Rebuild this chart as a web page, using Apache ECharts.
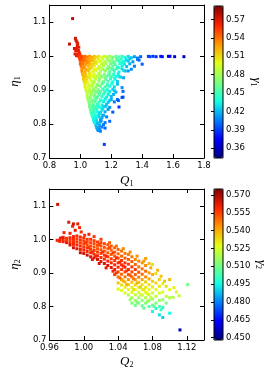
<!DOCTYPE html>
<html><head><meta charset="utf-8">
<script src="https://cdn.jsdelivr.net/npm/echarts@6/dist/echarts.min.js"></script>
<style>html,body{margin:0;padding:0;background:#fff}#c{width:270px;height:373px}</style>
</head><body><div id="c"></div>
<script>
// ---- Top panel: [Q1, eta1, gamma1] ----
const points1 = [
[0.95,1.11,0.578],[0.93,1.035,0.575],[0.968,1.052,0.572],[0.972,1.046,0.57],[0.978,1.041,0.57],[0.983,1.036,0.568],[0.962,1.022,0.572],[0.97,1.016,0.568],[0.978,1.022,0.567],[0.988,1.016,0.565],[0.993,1.01,0.562],[0.984,1.006,0.565],[0.966,1.006,0.57],[0.975,1.001,0.566],[0.99,1.026,0.566],[0.98,1.03,0.568],[0.997,1.004,0.56],[0.986,1.0,0.562],[0.992,1.002,0.56],
[0.995,0.999,0.556],[1.0,0.997,0.554],[1.01,0.999,0.55],[1.02,0.996,0.546],[1.03,0.999,0.542],[1.045,0.997,0.536],[1.06,0.999,0.53],[1.075,0.996,0.524],[1.09,0.999,0.518],[1.105,0.997,0.512],[1.12,0.999,0.506],[1.14,0.996,0.498],[1.155,0.999,0.492],[1.17,0.997,0.486],[1.19,0.999,0.478],[1.21,0.996,0.47],[1.23,0.999,0.462],[1.25,0.997,0.454],[1.27,0.999,0.446],[1.29,0.996,0.438],[1.31,0.999,0.43],[1.33,0.995,0.422],[1.35,0.998,0.414],[1.37,0.994,0.406],[1.39,0.998,0.398],[1.44,0.999,0.392],[1.45,0.998,0.39],[1.47,0.999,0.387],[1.49,0.998,0.385],[1.52,0.999,0.38],[1.53,0.998,0.378],[1.57,0.999,0.372],[1.58,0.999,0.37],[1.61,0.998,0.366],[1.67,0.998,0.36],
[1.37,0.99,0.404],[1.4,0.976,0.398],[1.33,0.961,0.41],[1.35,0.97,0.405],[1.28,0.936,0.415],[1.27,0.907,0.41],[1.27,0.878,0.395],[1.24,0.872,0.402],
[0.995,0.992,0.553],[1.01,0.991,0.547],[1.03,0.993,0.539],[1.05,0.991,0.531],[1.07,0.993,0.523],[1.09,0.99,0.515],[1.115,0.992,0.505],[1.145,0.991,0.493],[1.175,0.993,0.481],[1.205,0.99,0.469],[1.235,0.992,0.457],[1.265,0.991,0.445],[1.295,0.99,0.433],[1.32,0.992,0.423],
[1.0,0.985,0.548],[1.02,0.984,0.54],[1.04,0.986,0.532],[1.06,0.984,0.524],[1.08,0.986,0.516],[1.1,0.983,0.508],[1.13,0.986,0.496],[1.16,0.984,0.484],[1.19,0.985,0.472],[1.22,0.983,0.46],[1.25,0.986,0.448],[1.28,0.984,0.436],[1.31,0.985,0.424],[1.34,0.983,0.412],[1.38,0.988,0.4],
[1.0,0.977,0.545],[1.015,0.978,0.539],[1.035,0.976,0.531],[1.06,0.978,0.521],[1.08,0.976,0.513],[1.105,0.978,0.503],[1.135,0.976,0.491],[1.165,0.978,0.479],[1.195,0.977,0.467],[1.225,0.975,0.455],[1.255,0.978,0.443],[1.285,0.976,0.431],[1.32,0.977,0.417],
[1.005,0.97,0.539],[1.025,0.969,0.532],[1.05,0.971,0.522],[1.07,0.969,0.514],[1.09,0.971,0.506],[1.12,0.969,0.494],[1.15,0.971,0.482],[1.18,0.969,0.47],[1.21,0.97,0.458],[1.24,0.968,0.446],[1.27,0.971,0.434],[1.3,0.969,0.422],
[1.01,0.962,0.534],[1.035,0.961,0.524],[1.06,0.963,0.514],[1.09,0.961,0.502],[1.115,0.963,0.492],[1.145,0.961,0.48],[1.175,0.963,0.468],[1.205,0.961,0.456],[1.235,0.963,0.444],[1.27,0.962,0.43],
[1.01,0.955,0.531],[1.03,0.954,0.523],[1.055,0.956,0.513],[1.08,0.954,0.503],[1.1,0.956,0.495],[1.13,0.954,0.483],[1.16,0.956,0.471],[1.19,0.954,0.459],[1.22,0.955,0.447],[1.25,0.953,0.435],[1.29,0.956,0.419],[1.31,0.956,0.413],
[1.015,0.947,0.525],[1.035,0.946,0.517],[1.06,0.948,0.507],[1.09,0.946,0.495],[1.12,0.948,0.483],[1.155,0.946,0.469],[1.185,0.948,0.457],[1.215,0.946,0.445],[1.245,0.947,0.433],
[1.02,0.94,0.52],[1.04,0.939,0.512],[1.06,0.941,0.504],[1.085,0.939,0.494],[1.11,0.941,0.484],[1.14,0.939,0.472],[1.17,0.941,0.46],[1.2,0.939,0.448],[1.23,0.94,0.436],[1.26,0.938,0.424],
[1.02,0.932,0.516],[1.04,0.931,0.508],[1.065,0.933,0.498],[1.095,0.931,0.486],[1.125,0.933,0.474],[1.165,0.931,0.458],[1.195,0.933,0.446],[1.225,0.932,0.434],
[1.025,0.925,0.511],[1.045,0.924,0.503],[1.07,0.926,0.493],[1.09,0.924,0.485],[1.12,0.926,0.473],[1.15,0.924,0.461],[1.18,0.926,0.449],[1.21,0.924,0.437],[1.24,0.925,0.425],
[1.03,0.917,0.506],[1.055,0.916,0.496],[1.08,0.918,0.486],[1.11,0.916,0.474],[1.14,0.918,0.462],[1.175,0.916,0.448],[1.205,0.918,0.436],[1.24,0.917,0.422],
[1.03,0.91,0.503],[1.05,0.909,0.495],[1.075,0.911,0.485],[1.1,0.909,0.475],[1.13,0.911,0.463],[1.16,0.909,0.451],[1.19,0.911,0.439],[1.22,0.909,0.427],
[1.035,0.902,0.497],[1.06,0.901,0.487],[1.085,0.903,0.477],[1.115,0.901,0.465],[1.145,0.903,0.453],[1.175,0.901,0.441],[1.21,0.902,0.427],
[1.04,0.895,0.492],[1.06,0.894,0.484],[1.08,0.896,0.476],[1.105,0.894,0.466],[1.13,0.896,0.456],[1.16,0.894,0.444],[1.19,0.896,0.432],[1.23,0.894,0.416],[1.276,0.896,0.4],
[1.045,0.887,0.486],[1.07,0.886,0.476],[1.095,0.888,0.466],[1.12,0.886,0.456],[1.15,0.888,0.444],[1.18,0.886,0.432],[1.215,0.887,0.418],
[1.045,0.88,0.483],[1.065,0.879,0.475],[1.09,0.881,0.465],[1.11,0.879,0.457],[1.14,0.881,0.445],[1.17,0.879,0.433],[1.2,0.881,0.421],[1.276,0.879,0.394],
[1.05,0.872,0.477],[1.075,0.871,0.467],[1.1,0.873,0.457],[1.13,0.871,0.445],[1.16,0.873,0.433],[1.2,0.872,0.417],
[1.055,0.865,0.472],[1.075,0.864,0.464],[1.095,0.866,0.456],[1.12,0.864,0.446],[1.15,0.866,0.434],[1.18,0.864,0.422],[1.22,0.865,0.406],[1.246,0.869,0.398],
[1.06,0.857,0.467],[1.085,0.856,0.457],[1.11,0.858,0.447],[1.14,0.856,0.435],[1.17,0.858,0.423],
[1.06,0.85,0.464],[1.08,0.849,0.456],[1.1,0.851,0.448],[1.125,0.849,0.438],[1.15,0.851,0.428],[1.19,0.849,0.412],[1.25,0.85,0.388],
[1.065,0.842,0.458],[1.085,0.841,0.45],[1.105,0.843,0.442],[1.14,0.841,0.428],[1.18,0.843,0.412],
[1.07,0.835,0.453],[1.09,0.834,0.445],[1.11,0.836,0.437],[1.13,0.834,0.429],[1.16,0.836,0.417],[1.21,0.835,0.397],
[1.075,0.827,0.447],[1.095,0.826,0.439],[1.12,0.828,0.429],[1.15,0.826,0.417],
[1.08,0.82,0.442],[1.1,0.819,0.434],[1.12,0.821,0.426],[1.14,0.819,0.418],[1.17,0.821,0.406],[1.19,0.808,0.4],
[1.085,0.812,0.436],[1.105,0.811,0.428],[1.13,0.813,0.418],
[1.09,0.805,0.432],[1.11,0.804,0.424],[1.13,0.806,0.416],[1.16,0.804,0.404],
[1.1,0.797,0.424],[1.125,0.796,0.414],[1.15,0.798,0.405],
[1.105,0.79,0.419],[1.12,0.789,0.413],[1.14,0.791,0.405],[1.16,0.788,0.4],
[1.115,0.781,0.41],[1.13,0.779,0.405],[1.155,0.74,0.39],
[1.005,0.994,0.552],[1.025,0.988,0.541],[1.045,0.981,0.533],[1.07,0.987,0.522],[1.095,0.98,0.51],[1.12,0.984,0.5],[1.15,0.979,0.487],[1.18,0.988,0.476],[1.21,0.98,0.462],[1.24,0.987,0.452],[1.27,0.981,0.438],[1.3,0.987,0.428],
[1.02,0.966,0.532],[1.045,0.959,0.522],[1.07,0.965,0.513],[1.1,0.96,0.5],[1.13,0.965,0.489],[1.16,0.958,0.475],[1.19,0.965,0.465],[1.22,0.959,0.452],[1.25,0.966,0.442],[1.28,0.958,0.428],
[1.025,0.944,0.518],[1.05,0.936,0.508],[1.075,0.943,0.5],[1.1,0.935,0.49],[1.13,0.943,0.479],[1.16,0.936,0.466],[1.19,0.943,0.455],[1.22,0.936,0.442],[1.25,0.94,0.43],
[1.035,0.921,0.505],[1.06,0.913,0.493],[1.085,0.921,0.484],[1.115,0.913,0.47],[1.145,0.921,0.46],[1.175,0.913,0.447],[1.205,0.92,0.437],
[1.045,0.898,0.49],[1.07,0.891,0.48],[1.095,0.898,0.471],[1.125,0.891,0.458],[1.155,0.898,0.448],[1.185,0.891,0.435],[1.22,0.898,0.423],
[1.055,0.876,0.475],[1.08,0.869,0.465],[1.105,0.876,0.457],[1.135,0.869,0.444],[1.165,0.876,0.435],[1.19,0.869,0.422],
[1.065,0.853,0.462],[1.09,0.846,0.452],[1.115,0.853,0.443],[1.145,0.846,0.43],[1.165,0.852,0.422],
[1.075,0.831,0.449],[1.1,0.825,0.437],[1.125,0.832,0.428],[1.145,0.825,0.418],
[1.09,0.815,0.435],[1.115,0.8,0.42],[1.135,0.81,0.414],[1.11,0.785,0.415],[1.125,0.783,0.41]
];

// ---- Bottom panel: [Q2, eta2, gamma2] ----
const points2 = [
[0.9696,1.104,0.565],[0.9825,1.051,0.563],[0.988,1.046,0.565],[0.993,1.046,0.562],[0.987,1.039,0.56],[0.995,1.035,0.558],[0.977,1.02,0.56],[0.99,1.027,0.563],[0.997,1.022,0.558],[1.001,1.012,0.557],[0.969,0.997,0.559],[0.973,1.004,0.561],[1.006,1.015,0.56],[1.012,1.008,0.557],[1.02,1.0,0.556],[0.984,1.018,0.561],
[0.972,0.998,0.559],[0.972,0.994,0.561],
[0.976,1.0,0.558],[0.976,0.993,0.56],[0.976,1.006,0.562],
[0.98,1.003,0.558],[0.98,0.997,0.556],[0.98,0.99,0.562],
[0.984,1.005,0.559],[0.984,0.998,0.557],[0.984,0.99,0.558],[0.984,0.983,0.564],
[0.988,1.008,0.56],[0.988,1.0,0.558],[0.988,0.993,0.557],[0.988,0.985,0.56],[0.988,0.975,0.565],
[0.992,1.01,0.559],[0.992,1.001,0.557],[0.992,0.992,0.556],[0.992,0.983,0.559],[0.992,0.972,0.563],
[0.996,1.007,0.558],[0.996,0.998,0.557],[0.996,0.989,0.556],[0.996,0.98,0.558],[0.996,0.97,0.561],[0.996,0.96,0.566],
[1.0,1.004,0.558],[1.0,0.995,0.556],[1.0,0.986,0.555],[1.0,0.977,0.557],[1.0,0.968,0.56],[1.0,0.958,0.565],
[1.004,1.0,0.557],[1.004,0.992,0.555],[1.004,0.983,0.554],[1.004,0.974,0.557],[1.004,0.964,0.559],[1.004,0.953,0.566],
[1.008,1.0,0.557],[1.008,0.99,0.555],[1.008,0.98,0.554],[1.008,0.97,0.556],[1.008,0.96,0.559],[1.008,0.948,0.564],
[1.012,0.996,0.556],[1.012,0.987,0.554],[1.012,0.977,0.553],[1.012,0.967,0.556],[1.012,0.956,0.558],[1.012,0.945,0.563],
[1.016,0.992,0.556],[1.016,0.982,0.553],[1.016,0.972,0.553],[1.016,0.962,0.556],[1.016,0.951,0.559],[1.016,0.94,0.565],
[1.02,0.99,0.555],[1.02,0.98,0.553],[1.02,0.969,0.552],[1.02,0.958,0.555],[1.02,0.946,0.558],[1.02,0.934,0.563],
[1.024,0.987,0.554],[1.024,0.976,0.552],[1.024,0.965,0.552],[1.024,0.953,0.555],[1.024,0.941,0.558],[1.024,0.928,0.564],
[1.028,0.984,0.553],[1.028,0.972,0.551],[1.028,0.96,0.552],[1.028,0.948,0.555],[1.028,0.935,0.559],[1.028,0.922,0.565],
[1.032,0.98,0.552],[1.032,0.968,0.55],[1.032,0.955,0.552],[1.032,0.942,0.556],[1.032,0.93,0.559],[1.032,0.916,0.563],
[1.036,0.975,0.551],[1.036,0.962,0.55],[1.036,0.95,0.552],[1.036,0.937,0.556],[1.036,0.924,0.559],[1.036,0.91,0.561],[1.036,0.895,0.556],
[1.04,0.97,0.55],[1.04,0.957,0.549],[1.04,0.944,0.553],[1.04,0.93,0.557],[1.04,0.917,0.559],[1.04,0.903,0.554],[1.04,0.888,0.548],[1.04,0.87,0.536],[1.04,0.852,0.528],
[1.044,0.965,0.549],[1.044,0.95,0.551],[1.044,0.937,0.556],[1.044,0.924,0.559],[1.044,0.91,0.556],[1.044,0.896,0.55],[1.044,0.88,0.542],[1.044,0.864,0.532],[1.044,0.848,0.527],
[1.048,0.958,0.548],[1.048,0.944,0.552],[1.048,0.93,0.557],[1.048,0.917,0.56],[1.048,0.903,0.554],[1.048,0.888,0.548],[1.048,0.873,0.538],[1.048,0.857,0.53],[1.048,0.84,0.525],
[1.052,0.955,0.547],[1.052,0.94,0.551],[1.052,0.926,0.556],[1.052,0.91,0.558],[1.052,0.895,0.552],[1.052,0.88,0.544],[1.052,0.865,0.534],[1.052,0.85,0.528],[1.052,0.834,0.52],
[1.056,0.948,0.547],[1.056,0.934,0.551],[1.056,0.918,0.557],[1.056,0.903,0.554],[1.056,0.888,0.549],[1.056,0.872,0.537],[1.056,0.857,0.53],[1.056,0.842,0.526],[1.056,0.826,0.518],[1.056,0.81,0.512],
[1.06,0.94,0.546],[1.06,0.925,0.55],[1.06,0.91,0.556],[1.06,0.895,0.551],[1.06,0.88,0.542],[1.06,0.864,0.533],[1.06,0.85,0.527],[1.06,0.835,0.522],[1.06,0.818,0.515],[1.06,0.803,0.51],
[1.064,0.935,0.545],[1.064,0.918,0.549],[1.064,0.902,0.553],[1.064,0.887,0.547],[1.064,0.872,0.536],[1.064,0.857,0.53],[1.064,0.842,0.526],[1.064,0.826,0.518],[1.064,0.81,0.512],
[1.068,0.93,0.544],[1.068,0.912,0.548],[1.068,0.896,0.55],[1.068,0.88,0.541],[1.068,0.865,0.532],[1.068,0.85,0.528],[1.068,0.834,0.522],[1.068,0.818,0.514],[1.068,0.802,0.508],
[1.072,0.943,0.542],[1.072,0.922,0.545],[1.072,0.905,0.549],[1.072,0.888,0.545],[1.072,0.873,0.535],[1.072,0.857,0.53],[1.072,0.842,0.526],[1.072,0.826,0.52],[1.072,0.81,0.512],
[1.076,0.928,0.538],[1.076,0.9,0.543],[1.076,0.882,0.54],[1.076,0.865,0.532],[1.076,0.85,0.528],[1.076,0.835,0.523],[1.076,0.818,0.514],[1.076,0.8,0.505],
[1.08,0.925,0.532],[1.08,0.895,0.54],[1.08,0.875,0.535],[1.08,0.858,0.53],[1.08,0.84,0.525],[1.08,0.822,0.518],[1.08,0.804,0.508],[1.08,0.785,0.495],
[1.084,0.898,0.532],[1.084,0.87,0.534],[1.084,0.85,0.528],[1.084,0.83,0.522],[1.084,0.81,0.512],[1.084,0.794,0.498],
[1.088,0.88,0.535],[1.088,0.86,0.53],[1.088,0.84,0.525],[1.088,0.818,0.515],[1.088,0.8,0.505],[1.088,0.775,0.492],
[1.092,0.868,0.53],[1.092,0.843,0.526],[1.092,0.82,0.515],[1.092,0.797,0.497],[1.092,0.767,0.49],
[1.096,0.86,0.532],[1.096,0.83,0.522],[1.096,0.81,0.512],
[1.1,0.88,0.538],[1.1,0.85,0.527],[1.1,0.826,0.52],[1.1,0.78,0.495],
[1.104,0.827,0.52],[1.105,0.856,0.53],[1.108,0.843,0.528],[1.111,0.832,0.522],[1.121,0.865,0.51],[1.112,0.73,0.455],
[1.002,0.99,0.556],[1.006,0.975,0.557],[1.01,0.962,0.558],[1.014,0.95,0.56],[1.018,0.985,0.555],[1.022,0.962,0.557],[1.026,0.95,0.559],[1.03,0.975,0.554],[1.034,0.96,0.556],[1.038,0.945,0.558],[1.042,0.932,0.559],[1.046,0.92,0.558],[1.05,0.906,0.556],[1.054,0.893,0.552],[1.058,0.882,0.548],[1.062,0.87,0.54],[1.066,0.858,0.535],[1.07,0.85,0.532],[1.074,0.838,0.528],[1.078,0.826,0.522],
[1.03,0.99,0.55],[1.038,0.98,0.548],[1.046,0.972,0.546],[1.054,0.962,0.545],[1.062,0.95,0.544],[1.07,0.935,0.543],[1.078,0.915,0.54],[1.086,0.908,0.538],[1.09,0.89,0.537],[1.094,0.875,0.535],
[1.034,0.905,0.56],[1.042,0.885,0.55],[1.05,0.865,0.54],[1.058,0.85,0.532],[1.066,0.835,0.526],[1.074,0.815,0.516],[1.082,0.8,0.506],[1.09,0.79,0.5],
[1.026,0.915,0.563],[1.018,0.928,0.564],[1.01,0.94,0.563],[1.038,0.9,0.556],[1.046,0.876,0.54],[1.054,0.82,0.515],[1.062,0.812,0.512],[1.07,0.795,0.508]
];

// ---- Ticks and ranges ----
const xTicks1 = [0.8, 1.0, 1.2, 1.4, 1.6, 1.8];
const yTicks1 = [0.7, 0.8, 0.9, 1.0, 1.1];
const cbTicks1 = [0.36, 0.39, 0.42, 0.45, 0.48, 0.51, 0.54, 0.57];
const xTicks2 = [0.96, 1.00, 1.04, 1.08, 1.12];
const yTicks2 = [0.7, 0.8, 0.9, 1.0, 1.1];
const cbTicks2 = [0.450, 0.465, 0.480, 0.495, 0.510, 0.525, 0.540, 0.555, 0.570];
const cbRange1 = [0.344, 0.592];
const cbRange2 = [0.448, 0.575];

const JET = ['#000080','#0000FF','#0080FF','#15FFE2','#7BFF7B','#E2FF15','#FF9700','#FF2100','#800000'];
const FONT = 'DejaVu Sans';
const LBL = {color:'#000', fontFamily:FONT, fontSize:8.5};
const axLine = {show:true, lineStyle:{color:'#000', width:1}};
const mathRich = {
  i:{fontFamily:'Liberation Serif', fontStyle:'italic', fontSize:13, color:'#000'},
  s:{fontFamily:'Liberation Serif', fontSize:8, color:'#000', padding:[7,0,0,0]}
};

function mainX(grid, min, max, ticks, dec, name, gap){
  return [
    {type:'value', gridIndex:grid, position:'bottom', min, max,
     axisLine:axLine, splitLine:{show:false},
     axisTick:{inside:true, length:4, customValues:ticks, lineStyle:{color:'#000'}},
     axisLabel:Object.assign({customValues:ticks, margin:3, formatter:v=>v.toFixed(dec)}, LBL),
     name, nameLocation:'middle', nameGap:gap, nameTextStyle:{rich:mathRich}},
    {type:'value', gridIndex:grid, position:'top', min, max,
     axisLine:axLine, splitLine:{show:false},
     axisTick:{inside:true, length:4, customValues:ticks, lineStyle:{color:'#000'}},
     axisLabel:{show:false}}
  ];
}
function mainY(grid, min, max, ticks, name, gap){
  return [
    {type:'value', gridIndex:grid, position:'left', min, max,
     axisLine:axLine, splitLine:{show:false},
     axisTick:{inside:true, length:4, customValues:ticks, lineStyle:{color:'#000'}},
     axisLabel:Object.assign({customValues:ticks, margin:3, formatter:v=>v.toFixed(1)}, LBL),
     name, nameLocation:'middle', nameGap:gap, nameRotate:90, nameTextStyle:{rich:mathRich}},
    {type:'value', gridIndex:grid, position:'right', min, max,
     axisLine:axLine, splitLine:{show:false},
     axisTick:{inside:true, length:4, customValues:ticks, lineStyle:{color:'#000'}},
     axisLabel:{show:false}}
  ];
}
function cbY(grid, range, ticks, dec, name){
  return {type:'value', gridIndex:grid, position:'right', min:range[0], max:range[1],
    axisLine:{show:false}, splitLine:{show:false},
    axisTick:{inside:true, length:3, customValues:ticks, lineStyle:{color:'#000'}},
    axisLabel:Object.assign({customValues:ticks, margin:3, formatter:v=>v.toFixed(dec)}, LBL),
    name, nameLocation:'middle', nameGap:22, nameRotate:-90, nameTextStyle:{rich:mathRich}};
}

const chart = echarts.init(document.getElementById('c'), null, {renderer:'canvas'});
chart.setOption({
  animation:false,
  backgroundColor:'#fff',
  grid:[
    {left:36, top:5, width:168, height:153, show:false},
    {left:36, top:189, width:168, height:151, show:false},
    {left:214, top:6, width:9, height:152, show:true, z:10, backgroundColor:'transparent', borderColor:'#000', borderWidth:1},
    {left:214, top:189, width:9, height:151, show:true, z:10, backgroundColor:'transparent', borderColor:'#000', borderWidth:1}
  ],
  xAxis:[
    ...mainX(0, 0.8, 1.8, xTicks1, 1, '{i|Q}{s|1}', 15),
    ...mainX(1, 0.96, 1.14, xTicks2, 2, '{i|Q}{s|2}', 14),
    {type:'value', gridIndex:2, min:0, max:1, show:false},
    {type:'value', gridIndex:3, min:0, max:1, show:false}
  ],
  yAxis:[
    ...mainY(0, 0.7, 1.15, yTicks1, '{i|η}{s|1}', 25),
    ...mainY(1, 0.7, 1.15, yTicks2, '{i|η}{s|2}', 25),
    cbY(2, cbRange1, cbTicks1, 2, '{i|γ}{s|1}'),
    cbY(3, cbRange2, cbTicks2, 3, '{i|γ}{s|2}')
  ],
  visualMap:[
    {type:'continuous', seriesIndex:0, dimension:2, min:cbRange1[0], max:cbRange1[1],
     inRange:{color:JET}, left:214, top:6, itemWidth:9, itemHeight:152, padding:0,
     calculable:false, hoverLink:false, text:null, textGap:0},
    {type:'continuous', seriesIndex:1, dimension:2, min:cbRange2[0], max:cbRange2[1],
     inRange:{color:JET}, left:214, top:189, itemWidth:9, itemHeight:151, padding:0,
     calculable:false, hoverLink:false, text:null, textGap:0}
  ],
  series:[
    {type:'scatter', xAxisIndex:0, yAxisIndex:0, data:points1, symbol:'rect', symbolSize:3,
     itemStyle:{opacity:1}, emphasis:{disabled:true}, silent:true},
    {type:'scatter', xAxisIndex:2, yAxisIndex:2, data:points2, symbol:'rect', symbolSize:3,
     itemStyle:{opacity:1}, emphasis:{disabled:true}, silent:true}
  ]
});
</script></body></html>
